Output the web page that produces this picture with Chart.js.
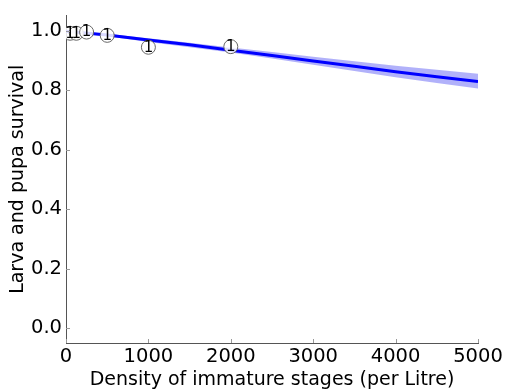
<!DOCTYPE html>
<html><head><meta charset="utf-8">
<script src="https://cdn.jsdelivr.net/npm/chart.js@4/dist/chart.umd.min.js"></script>
<style>html,body{margin:0;padding:0;background:#fff}#wrap{width:505px;height:391px}</style>
</head><body><div id="wrap"><canvas id="c" width="505" height="391"></canvas></div>
<script>
// Observed points
const obsDensity = [50, 125, 250, 500, 1000, 2000];
const obsSurvival = [0.991, 0.991, 0.995, 0.984, 0.944, 0.946];
const obsLabels = ["1", "1", "1", "1", "1", "1"];
// Fitted curve and confidence band
const fitDensity = [0, 500, 1000, 1500, 2000, 2500, 3000, 3500, 4000, 4500, 5000];
const fitSurvival = [0.998, 0.985, 0.968, 0.952, 0.934, 0.916, 0.898, 0.880, 0.862, 0.845, 0.829];
const fitUpper = [1.001, 0.989, 0.974, 0.959, 0.943, 0.928, 0.912, 0.897, 0.882, 0.868, 0.855];
const fitLower = [0.995, 0.981, 0.962, 0.944, 0.926, 0.906, 0.885, 0.864, 0.843, 0.824, 0.805];
// Tick labels
const xTicks = [0, 1000, 2000, 3000, 4000, 5000];
const yTicks = [0.0, 0.2, 0.4, 0.6, 0.8, 1.0];

const FONT = "'DejaVu Sans', sans-serif";
const pts = (xs, ys) => xs.map((x, i) => ({x: x, y: ys[i]}));

const innerTicks = {
  id: 'innerTicks',
  afterDraw(chart) {
    const ctx = chart.ctx, xs = chart.scales.x, ys = chart.scales.y, a = chart.chartArea;
    ctx.save();
    ctx.strokeStyle = '#999';
    ctx.lineWidth = 1;
    ctx.beginPath();
    xTicks.forEach(v => { const px = Math.round(xs.getPixelForValue(v)) + 0.5; ctx.moveTo(px, a.bottom); ctx.lineTo(px, a.bottom - 4); });
    yTicks.forEach(v => { const py = Math.round(ys.getPixelForValue(v)) + 0.5; ctx.moveTo(a.left, py); ctx.lineTo(a.left + 4, py); });
    ctx.stroke();
    ctx.restore();
  }
};
const pointLabels = {
  id: 'pointLabels',
  afterDatasetsDraw(chart) {
    const ctx = chart.ctx, xs = chart.scales.x, ys = chart.scales.y;
    ctx.save();
    ctx.fillStyle = '#000';
    ctx.font = "15px " + FONT;
    ctx.textAlign = 'center';
    ctx.textBaseline = 'middle';
    obsDensity.forEach((d, i) => ctx.fillText(obsLabels[i], xs.getPixelForValue(d), ys.getPixelForValue(obsSurvival[i]) + 0.5));
    ctx.restore();
  }
};

new Chart(document.getElementById('c'), {
  type: 'scatter',
  data: {
    datasets: [
      {data: pts(fitDensity, fitUpper), showLine: true, borderWidth: 0, borderColor: 'rgba(0,0,0,0)', pointRadius: 0, fill: false, order: 3},
      {data: pts(fitDensity, fitLower), showLine: true, borderWidth: 0, borderColor: 'rgba(0,0,0,0)', pointRadius: 0, fill: '-1', backgroundColor: 'rgba(100,100,245,0.5)', order: 2},
      {data: pts(fitDensity, fitSurvival), showLine: true, borderWidth: 3, borderColor: '#0000ff', pointRadius: 0, fill: false, order: 1},
      {data: pts(obsDensity, obsSurvival), showLine: false, pointRadius: 7, pointBackgroundColor: 'rgba(255,255,255,0.85)', pointBorderColor: '#666', pointBorderWidth: 1, order: 0}
    ]
  },
  options: {
    responsive: false,
    animation: false,
    layout: {padding: {top: 12, right: 27, left: 0, bottom: 0}},
    plugins: {legend: {display: false}, tooltip: {enabled: false}},
    scales: {
      x: {
        type: 'linear', min: 0, max: 5000,
        afterBuildTicks: s => { s.ticks = xTicks.map(v => ({value: v})); },
        afterFit: s => { s.height = 48; },
        grid: {display: false, drawTicks: false},
        border: {display: true, color: '#555', width: 1},
        ticks: {color: '#000', font: {family: FONT, size: 19.5}, padding: 2, maxRotation: 0, callback: v => String(v)},
        title: {display: true, text: 'Density of immature stages (per Litre)', color: '#000', font: {family: FONT, size: 19}, padding: {top: 0, bottom: 0}}
      },
      y: {
        type: 'linear', min: -0.05, max: 1.05,
        afterBuildTicks: s => { s.ticks = yTicks.map(v => ({value: v})); },
        afterFit: s => { s.width = 66; },
        grid: {display: false, drawTicks: false},
        border: {display: true, color: '#555', width: 1},
        ticks: {color: '#000', font: {family: FONT, size: 19.5}, padding: 4, callback: v => v.toFixed(1)},
        title: {display: true, text: 'Larva and pupa survival', color: '#000', font: {family: FONT, size: 19}, padding: {top: 7, bottom: 0}}
      }
    }
  },
  plugins: [innerTicks, pointLabels]
});
</script>
</body></html>
